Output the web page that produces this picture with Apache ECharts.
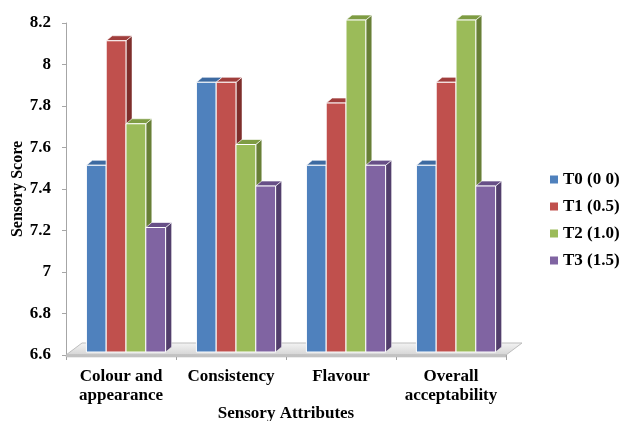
<!DOCTYPE html>
<html>
<head>
<meta charset="utf-8">
<script src="https://cdn.jsdelivr.net/npm/echarts@6/dist/echarts.min.js"></script>
<style>
  html, body { margin: 0; padding: 0; background: #fff; }
  #chart { width: 623px; height: 421px; }
</style>
</head>
<body>
<div id="chart"></div>
<script>
// Sensory scores per attribute for each treatment
const categories = ['Colour and\nappearance', 'Consistency', 'Flavour', 'Overall\nacceptability'];
const seriesNames = ['T0 (0 0)', 'T1 (0.5)', 'T2 (1.0)', 'T3 (1.5)'];
const t0 = [7.5, 7.9, 7.5, 7.5];
const t1 = [8.1, 7.9, 7.8, 7.9];
const t2 = [7.7, 7.6, 8.2, 8.2];
const t3 = [7.2, 7.4, 7.5, 7.4];
const yTicks = { min: 6.6, max: 8.2, step: 0.2 };

const values = [t0, t1, t2, t3];
const palette = [
  { front: '#4F81BD', top: '#3D6AA1', side: '#2E5080' },
  { front: '#C0504D', top: '#A03E3C', side: '#7E2E2C' },
  { front: '#9BBB59', top: '#7E9C43', side: '#687F36' },
  { front: '#8064A2', top: '#674F87', side: '#523E6C' }
];
const FONT = "'Liberation Serif', 'Times New Roman', serif";

// pseudo-3D projection: bars sit a little behind the floor's front edge
const SHIFT_X = 5, SHIFT_Y = -3;   // offset of the bar front plane
const DEPTH_X = 6, DEPTH_Y = -5;   // bar depth
const FLOOR_X = 16, FLOOR_Y = -12; // floor depth

function barRenderer(k) {
  const c = palette[k];
  return function (params, api) {
    const idx = api.value(0);
    const val = api.value(1);
    const band = api.size([1, 0])[0];
    const bw = band * 0.18;
    const topPt = api.coord([idx, val]);
    const basePt = api.coord([idx, yTicks.min]);
    const x0 = topPt[0] + (k - 1.5) * bw - bw / 2 + SHIFT_X;
    const x1 = x0 + bw;
    const yt = topPt[1] + SHIFT_Y;
    const yb = basePt[1] + SHIFT_Y;
    return {
      type: 'group',
      children: [
        {
          type: 'polygon',
          shape: { points: [[x1, yt], [x1 + DEPTH_X, yt + DEPTH_Y], [x1 + DEPTH_X, yb + DEPTH_Y], [x1, yb]] },
          style: { fill: c.side, stroke: 'rgba(255,255,255,0.6)', lineWidth: 0.8 }
        },
        {
          type: 'polygon',
          shape: { points: [[x0, yt], [x0 + DEPTH_X, yt + DEPTH_Y], [x1 + DEPTH_X, yt + DEPTH_Y], [x1, yt]] },
          style: { fill: c.top, stroke: 'rgba(255,255,255,0.8)', lineWidth: 0.8 }
        },
        {
          type: 'rect',
          shape: { x: x0, y: yt, width: bw, height: yb - yt },
          style: { fill: c.front, stroke: '#ffffff', lineWidth: 1 }
        }
      ]
    };
  };
}

function floorRenderer(params, api) {
  const cs = params.coordSys;
  const x = cs.x, w = cs.width, yb = cs.y + cs.height;
  return {
    type: 'group',
    children: [
      {
        type: 'polygon',
        shape: { points: [[x, yb], [x + FLOOR_X, yb + FLOOR_Y], [x + w + FLOOR_X, yb + FLOOR_Y], [x + w, yb]] },
        style: {
          fill: new echarts.graphic.LinearGradient(0, 0, 0, 1, [
            { offset: 0, color: '#f4f4f4' },
            { offset: 1, color: '#d4d4d4' }
          ]),
          stroke: '#bdbdbd', lineWidth: 1
        }
      },
      {
        type: 'rect',
        shape: { x: x, y: yb, width: w, height: 2 },
        style: { fill: '#c8c8c8', stroke: '#b0b0b0', lineWidth: 0.5 }
      }
    ]
  };
}

const series = [{
  name: 'floor',
  type: 'custom',
  renderItem: floorRenderer,
  data: [[0, yTicks.min]],
  silent: true,
  z: 1
}];
values.forEach(function (arr, k) {
  series.push({
    name: seriesNames[k],
    type: 'custom',
    renderItem: barRenderer(k),
    itemStyle: { color: palette[k].front },
    data: arr.map(function (v, i) { return [i, v]; }),
    clip: false,
    z: 2
  });
});

const chart = echarts.init(document.getElementById('chart'), null, { renderer: 'canvas' });
chart.setOption({
  animation: false,
  backgroundColor: '#ffffff',
  grid: { left: 66, right: 117, top: 23, bottom: 66, containLabel: false, outerBoundsMode: 'none' },
  legend: {
    data: seriesNames,
    orient: 'vertical',
    left: 545,
    top: 166,
    icon: 'rect',
    itemWidth: 8,
    itemHeight: 8,
    itemGap: 10,
    textStyle: { fontFamily: FONT, fontWeight: 'bold', fontSize: 17, color: '#000' }
  },
  xAxis: {
    type: 'category',
    data: categories,
    name: 'Sensory Attributes',
    nameLocation: 'middle',
    nameGap: 50,
    nameMoveOverlap: false,
    nameTextStyle: { fontFamily: FONT, fontWeight: 'bold', fontSize: 17, color: '#000' },
    axisLine: { show: true, lineStyle: { color: '#b0b0b0' } },
    axisTick: { show: true, length: 5, lineStyle: { color: '#a0a0a0' } },
    axisLabel: {
      interval: 0, margin: 12, lineHeight: 19,
      fontFamily: FONT, fontWeight: 'bold', fontSize: 17, color: '#000'
    },
    splitLine: { show: false }
  },
  yAxis: {
    type: 'value',
    min: yTicks.min,
    max: yTicks.max,
    interval: yTicks.step,
    name: 'Sensory Score',
    nameLocation: 'middle',
    nameGap: 40,
    nameMoveOverlap: false,
    nameTextStyle: { fontFamily: FONT, fontWeight: 'bold', fontSize: 16, color: '#000' },
    axisLine: { show: true, lineStyle: { color: '#a6a6a6' } },
    axisTick: { show: true, length: 4, lineStyle: { color: '#a6a6a6' } },
    axisLabel: {
      margin: 15,
      fontFamily: FONT, fontWeight: 'bold', fontSize: 17, color: '#000',
      formatter: function (v) { return String(parseFloat(v.toFixed(1))); }
    },
    splitLine: { show: false }
  },
  series: series
});
</script>
</body>
</html>
